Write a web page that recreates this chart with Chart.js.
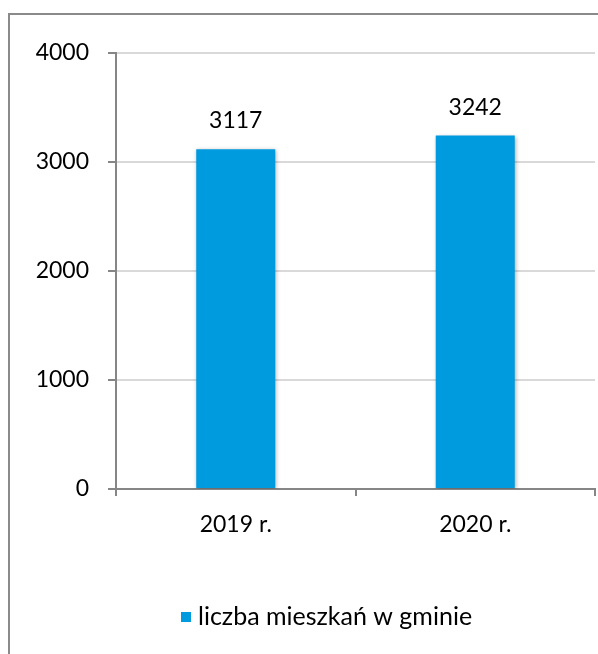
<!DOCTYPE html>
<html>
<head>
<meta charset="utf-8">
<script src="https://cdn.jsdelivr.net/npm/chart.js@4/dist/chart.umd.min.js"></script>
<style>
  html, body { margin: 0; padding: 0; background: #fff; }
  #wrap { position: relative; width: 598px; height: 654px; overflow: hidden; }
  #frame { position: absolute; left: 8px; top: 13px; width: 700px; height: 700px;
    border-left: 2px solid #8a8a8a; border-top: 2px solid #8a8a8a; }
  #chart { position: absolute; left: 0; top: 0; }
</style>
</head>
<body>
<div id="wrap">
  <div id="frame"></div>
  <canvas id="chart" width="598" height="654"></canvas>
</div>
<script>
const years = ["2019 r.", "2020 r."];
const residents = [3117, 3242];
const seriesLabel = "liczba mieszkań w gminie";
const yTicks = [0, 1000, 2000, 3000, 4000];

const BAR_COLOR = "#009ADE";
const FONT = "Lato, 'Open Sans', sans-serif";

// value labels above the bars
const valueLabels = {
  id: "valueLabels",
  afterDatasetsDraw(chart) {
    const ctx = chart.ctx;
    const meta = chart.getDatasetMeta(0);
    ctx.save();
    ctx.font = `23px ${FONT}`;
    ctx.fillStyle = "#000";
    ctx.textAlign = "center";
    ctx.textBaseline = "alphabetic";
    meta.data.forEach((bar, i) => {
      ctx.fillText(String(residents[i]), bar.x, bar.y - 21);
    });
    ctx.restore();
  },
};

// soft shadow on the bars
const barShadow = {
  id: "barShadow",
  beforeDatasetsDraw(chart) {
    const ctx = chart.ctx;
    ctx.save();
    ctx.shadowColor = "rgba(0,0,0,0.3)";
    ctx.shadowBlur = 4;
    ctx.shadowOffsetX = 1;
    ctx.shadowOffsetY = 1;
  },
  afterDatasetsDraw(chart) {
    chart.ctx.restore();
  },
};

// legend drawn under the axis, offset like the original
const bottomLegend = {
  id: "bottomLegend",
  afterDraw(chart) {
    const ctx = chart.ctx;
    ctx.save();
    ctx.fillStyle = BAR_COLOR;
    ctx.fillRect(181, 612, 10, 10);
    ctx.font = `25px ${FONT}`;
    ctx.fillStyle = "#000";
    ctx.textAlign = "left";
    ctx.textBaseline = "alphabetic";
    ctx.fillText(chart.data.datasets[0].label, 198, 625);
    ctx.restore();
  },
};

new Chart(document.getElementById("chart"), {
  type: "bar",
  data: {
    labels: years,
    datasets: [
      {
        label: seriesLabel,
        data: residents,
        backgroundColor: BAR_COLOR,
        borderWidth: 0,
        barPercentage: 0.33,
        categoryPercentage: 1,
      },
    ],
  },
  options: {
    responsive: false,
    animation: false,
    devicePixelRatio: 1,
    layout: { padding: { top: 53, right: 3, bottom: 105, left: 0 } },
    plugins: {
      legend: { display: false },
      tooltip: { enabled: false },
    },
    scales: {
      x: {
        afterFit: (s) => { s.height = 60; },
        grid: {
          offset: true,
          drawOnChartArea: false,
          tickLength: 7,
          tickColor: "#868686",
          lineWidth: 2,
        },
        border: { color: "#868686", width: 2 },
        ticks: { color: "#000", padding: 15, font: { family: FONT, size: 23 } },
      },
      y: {
        min: 0,
        max: 4000,
        afterFit: (s) => { s.width = 116; },
        afterBuildTicks: (s) => { s.ticks = yTicks.map((v) => ({ value: v })); },
        grid: {
          color: "#d9d9d9",
          lineWidth: 2,
          tickLength: 8,
          tickColor: "#868686",
        },
        border: { color: "#868686", width: 2 },
        ticks: {
          color: "#000",
          padding: 19,
          font: { family: FONT, size: 23 },
          callback: (v) => String(v),
        },
      },
    },
  },
  plugins: [barShadow, valueLabels, bottomLegend],
});
</script>
</body>
</html>
